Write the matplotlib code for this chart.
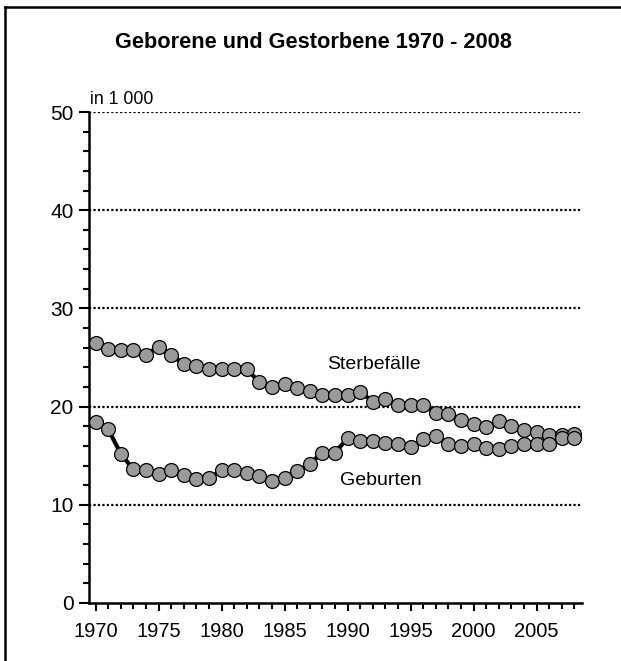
import matplotlib
matplotlib.use("Agg")
import matplotlib.pyplot as plt
from matplotlib.ticker import MultipleLocator
from matplotlib.lines import Line2D
from matplotlib import font_manager

years = list(range(1970, 2009))
sterbefaelle = [26.5, 25.9, 25.8, 25.8, 25.3, 26.1, 25.3, 24.3, 24.1, 23.8,
                23.8, 23.8, 23.8, 22.5, 22.0, 22.3, 21.9, 21.6, 21.2, 21.2,
                21.2, 21.5, 20.5, 20.8, 20.2, 20.2, 20.2, 19.3, 19.2, 18.6,
                18.2, 17.9, 18.5, 18.0, 17.6, 17.4, 17.1, 17.1, 17.2]
geburten = [18.4, 17.7, 15.2, 13.6, 13.5, 13.1, 13.5, 13.0, 12.6, 12.7,
            13.5, 13.5, 13.2, 12.9, 12.4, 12.7, 13.4, 14.2, 15.3, 15.3,
            16.8, 16.5, 16.5, 16.3, 16.2, 15.9, 16.7, 17.0, 16.2, 16.0,
            16.2, 15.8, 15.7, 16.0, 16.2, 16.2, 16.2, 16.8, 16.8]
x_ticks = [1970, 1975, 1980, 1985, 1990, 1995, 2000, 2005]
y_ticks = [0, 10, 20, 30, 40, 50]
title = "Geborene und Gestorbene 1970 - 2008"

names = {f.name for f in font_manager.fontManager.ttflist}
fam = ["Liberation Sans Narrow", "Liberation Sans", "DejaVu Sans"]
fam = [f for f in fam if f in names] or ["DejaVu Sans"]
plt.rcParams["font.family"] = fam

W, H = 621, 661
fig = plt.figure(figsize=(W / 100, H / 100), dpi=100)
ax = fig.add_axes([89 / W, 58 / H, 493 / W, 491 / H])

for ys in (sterbefaelle, geburten):
    ax.plot(years, ys, color="black", lw=3, zorder=3)
    ax.plot(years, ys, ls="none", marker="o", ms=10, mfc="#9a9a9a",
            mec="black", mew=0.9, zorder=4)

ax.set_xlim(1969.48, 2008.6)
ax.set_ylim(0, 50)
ax.set_xticks(x_ticks)
ax.set_yticks(y_ticks)
ax.xaxis.set_minor_locator(MultipleLocator(1))
ax.yaxis.set_minor_locator(MultipleLocator(2))
for y in y_ticks[1:]:
    ax.axhline(y, color="black", lw=1.6, ls=(0, (1, 1)), zorder=1)

for s in ("top", "right"):
    ax.spines[s].set_visible(False)
for s in ("left", "bottom"):
    ax.spines[s].set_linewidth(1.8)
ax.tick_params(axis="y", which="major", length=7, width=1.5, labelsize=15, pad=4)
ax.tick_params(axis="y", which="minor", length=4, width=1.5)
ax.tick_params(axis="x", which="major", length=6, width=1.5, labelsize=14.5, pad=8)
ax.tick_params(axis="x", which="minor", length=4, width=1.5)

ax.text(1969.56, 50.8, "in 1 000", fontsize=12.7, ha="left", va="baseline")
ax.text(1992.1, 24.3, "Sterbefälle", fontsize=14, ha="center", va="center")
ax.text(1992.6, 12.5, "Geburten", fontsize=14, ha="center", va="center")

fig.text(313 / W, 1 - 43 / H, title, fontsize=15.7, fontweight="bold",
         ha="center", va="center")

ytop = 1 - 7 / H
fig.add_artist(Line2D([5 / W, 1.05], [ytop, ytop], transform=fig.transFigure,
                      color="black", lw=1.8))
fig.add_artist(Line2D([5 / W, 5 / W], [-0.05, ytop], transform=fig.transFigure,
                      color="black", lw=1.8))

fig.savefig("out.png", dpi=100)
